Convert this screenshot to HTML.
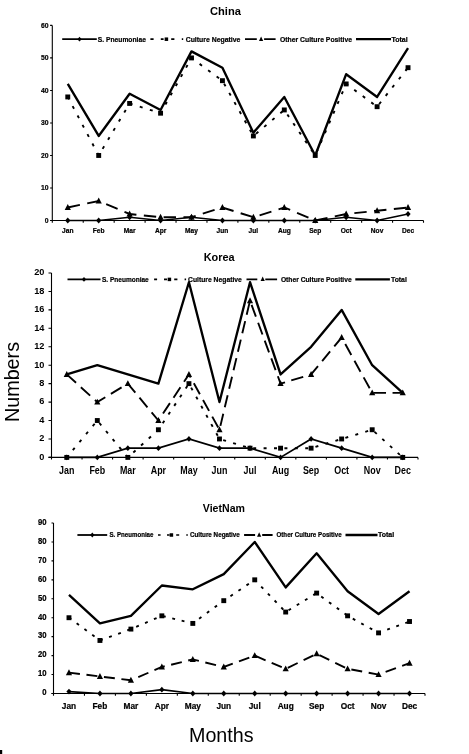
<!DOCTYPE html>
<html><head><meta charset="utf-8"><style>
html,body{margin:0;padding:0;background:#fff;}
body{width:469px;height:754px;overflow:hidden;}
svg{display:block;will-change:transform;}
</style></head><body>
<svg width="469" height="754" viewBox="0 0 469 754" font-family="Liberation Sans, sans-serif" fill="#000">
<g><text x="210" y="14.5" font-size="11" font-weight="bold" text-anchor="start" textLength="31" lengthAdjust="spacingAndGlyphs">China</text>
<path d="M52.3 25.4V222.7M50.1 220.5H423.5" stroke="#000" stroke-width="1.1" fill="none"/>
<path d="M50.1 220.5H52.3M50.1 187.98H52.3M50.1 155.47H52.3M50.1 122.95H52.3M50.1 90.43H52.3M50.1 57.92H52.3M50.1 25.4H52.3M83.23 220.5V222.7M114.17 220.5V222.7M145.1 220.5V222.7M176.03 220.5V222.7M206.97 220.5V222.7M237.9 220.5V222.7M268.83 220.5V222.7M299.77 220.5V222.7M330.7 220.5V222.7M361.63 220.5V222.7M392.57 220.5V222.7M423.5 220.5V222.7" stroke="#000" stroke-width="1.1" fill="none"/>
<text x="48.6" y="222.6" font-size="7" font-weight="bold" stroke="#000" stroke-width="0.22" text-anchor="end" textLength="3.78" lengthAdjust="spacingAndGlyphs">0</text>
<text x="48.6" y="190.08" font-size="7" font-weight="bold" stroke="#000" stroke-width="0.22" text-anchor="end" textLength="7.56" lengthAdjust="spacingAndGlyphs">10</text>
<text x="48.6" y="157.57" font-size="7" font-weight="bold" stroke="#000" stroke-width="0.22" text-anchor="end" textLength="7.56" lengthAdjust="spacingAndGlyphs">20</text>
<text x="48.6" y="125.05" font-size="7" font-weight="bold" stroke="#000" stroke-width="0.22" text-anchor="end" textLength="7.56" lengthAdjust="spacingAndGlyphs">30</text>
<text x="48.6" y="92.53" font-size="7" font-weight="bold" stroke="#000" stroke-width="0.22" text-anchor="end" textLength="7.56" lengthAdjust="spacingAndGlyphs">40</text>
<text x="48.6" y="60.02" font-size="7" font-weight="bold" stroke="#000" stroke-width="0.22" text-anchor="end" textLength="7.56" lengthAdjust="spacingAndGlyphs">50</text>
<text x="48.6" y="27.5" font-size="7" font-weight="bold" stroke="#000" stroke-width="0.22" text-anchor="end" textLength="7.56" lengthAdjust="spacingAndGlyphs">60</text>
<text x="67.77" y="232.6" font-size="6.7" font-weight="bold" stroke="#000" stroke-width="0.22" text-anchor="middle" textLength="11.37" lengthAdjust="spacingAndGlyphs">Jan</text>
<text x="98.7" y="232.6" font-size="6.7" font-weight="bold" stroke="#000" stroke-width="0.22" text-anchor="middle" textLength="11.73" lengthAdjust="spacingAndGlyphs">Feb</text>
<text x="129.63" y="232.6" font-size="6.7" font-weight="bold" stroke="#000" stroke-width="0.22" text-anchor="middle" textLength="11.74" lengthAdjust="spacingAndGlyphs">Mar</text>
<text x="160.57" y="232.6" font-size="6.7" font-weight="bold" stroke="#000" stroke-width="0.22" text-anchor="middle" textLength="11.37" lengthAdjust="spacingAndGlyphs">Apr</text>
<text x="191.5" y="232.6" font-size="6.7" font-weight="bold" stroke="#000" stroke-width="0.22" text-anchor="middle" textLength="12.84" lengthAdjust="spacingAndGlyphs">May</text>
<text x="222.43" y="232.6" font-size="6.7" font-weight="bold" stroke="#000" stroke-width="0.22" text-anchor="middle" textLength="11.73" lengthAdjust="spacingAndGlyphs">Jun</text>
<text x="253.37" y="232.6" font-size="6.7" font-weight="bold" stroke="#000" stroke-width="0.22" text-anchor="middle" textLength="9.54" lengthAdjust="spacingAndGlyphs">Jul</text>
<text x="284.3" y="232.6" font-size="6.7" font-weight="bold" stroke="#000" stroke-width="0.22" text-anchor="middle" textLength="12.83" lengthAdjust="spacingAndGlyphs">Aug</text>
<text x="315.23" y="232.6" font-size="6.7" font-weight="bold" stroke="#000" stroke-width="0.22" text-anchor="middle" textLength="12.1" lengthAdjust="spacingAndGlyphs">Sep</text>
<text x="346.17" y="232.6" font-size="6.7" font-weight="bold" stroke="#000" stroke-width="0.22" text-anchor="middle" textLength="11" lengthAdjust="spacingAndGlyphs">Oct</text>
<text x="377.1" y="232.6" font-size="6.7" font-weight="bold" stroke="#000" stroke-width="0.22" text-anchor="middle" textLength="12.47" lengthAdjust="spacingAndGlyphs">Nov</text>
<text x="408.03" y="232.6" font-size="6.7" font-weight="bold" stroke="#000" stroke-width="0.22" text-anchor="middle" textLength="12.11" lengthAdjust="spacingAndGlyphs">Dec</text>
<polyline points="67.77,83.93 98.7,135.96 129.63,93.69 160.57,109.94 191.5,51.41 222.43,67.67 253.37,132.7 284.3,96.94 315.23,155.47 346.17,74.18 377.1,96.94 408.03,48.16" fill="none" stroke="#000" stroke-width="2.35" stroke-linejoin="round"/>
<polyline points="67.77,96.94 98.7,155.47 129.63,103.44 160.57,113.2 191.5,57.92 222.43,80.68 253.37,135.96 284.3,109.94 315.23,155.47 346.17,83.93 377.1,106.69 408.03,67.67" fill="none" stroke="#000" stroke-width="1.9" stroke-dasharray="3 7.58" stroke-dashoffset="0.2"/>
<polyline points="67.77,207.49 98.7,200.99 129.63,214 160.57,217.25 191.5,217.25 222.43,207.49 253.37,217.25 284.3,207.49 315.23,220.5 346.17,214 377.1,210.75 408.03,207.49" fill="none" stroke="#000" stroke-width="1.9" stroke-dasharray="12.4 7.46" stroke-dashoffset="0"/>
<polyline points="67.77,220.5 98.7,220.5 129.63,217.25 160.57,220.5 191.5,217.25 222.43,220.5 253.37,220.5 284.3,220.5 315.23,220.5 346.17,217.25 377.1,220.5 408.03,214" fill="none" stroke="#000" stroke-width="1.7"/>
<g><rect x="65.32" y="94.49" width="4.9" height="4.9"/><rect x="96.25" y="153.02" width="4.9" height="4.9"/><rect x="127.18" y="100.99" width="4.9" height="4.9"/><rect x="158.12" y="110.75" width="4.9" height="4.9"/><rect x="189.05" y="55.47" width="4.9" height="4.9"/><rect x="219.98" y="78.23" width="4.9" height="4.9"/><rect x="250.92" y="133.51" width="4.9" height="4.9"/><rect x="281.85" y="107.49" width="4.9" height="4.9"/><rect x="312.78" y="153.02" width="4.9" height="4.9"/><rect x="343.72" y="81.48" width="4.9" height="4.9"/><rect x="374.65" y="104.24" width="4.9" height="4.9"/><rect x="405.58" y="65.22" width="4.9" height="4.9"/><path d="M67.77 204.07L70.87 209.97L64.67 209.97Z"/><path d="M98.7 197.57L101.8 203.47L95.6 203.47Z"/><path d="M129.63 210.57L132.73 216.47L126.53 216.47Z"/><path d="M160.57 213.83L163.67 219.73L157.47 219.73Z"/><path d="M191.5 213.83L194.6 219.73L188.4 219.73Z"/><path d="M222.43 204.07L225.53 209.97L219.33 209.97Z"/><path d="M253.37 213.83L256.47 219.73L250.27 219.73Z"/><path d="M284.3 204.07L287.4 209.97L281.2 209.97Z"/><path d="M315.23 217.08L318.33 222.98L312.13 222.98Z"/><path d="M346.17 210.57L349.27 216.47L343.07 216.47Z"/><path d="M377.1 207.32L380.2 213.22L374 213.22Z"/><path d="M408.03 204.07L411.13 209.97L404.93 209.97Z"/><path d="M67.77 217.6L70.38 220.5L67.77 223.4L65.16 220.5Z"/><path d="M98.7 217.6L101.31 220.5L98.7 223.4L96.09 220.5Z"/><path d="M129.63 214.35L132.24 217.25L129.63 220.15L127.02 217.25Z"/><path d="M160.57 217.6L163.18 220.5L160.57 223.4L157.96 220.5Z"/><path d="M191.5 214.35L194.11 217.25L191.5 220.15L188.89 217.25Z"/><path d="M222.43 217.6L225.04 220.5L222.43 223.4L219.82 220.5Z"/><path d="M253.37 217.6L255.98 220.5L253.37 223.4L250.76 220.5Z"/><path d="M284.3 217.6L286.91 220.5L284.3 223.4L281.69 220.5Z"/><path d="M315.23 217.6L317.84 220.5L315.23 223.4L312.62 220.5Z"/><path d="M346.17 214.35L348.78 217.25L346.17 220.15L343.56 217.25Z"/><path d="M377.1 217.6L379.71 220.5L377.1 223.4L374.49 220.5Z"/><path d="M408.03 211.1L410.64 214L408.03 216.9L405.42 214Z"/></g>
<path d="M62.2 39.2H96.8" stroke="#000" stroke-width="1.8"/>
<path d="M79.5 36.8L81.66 39.2L79.5 41.6L77.34 39.2Z"/>
<text x="97.8" y="42" font-size="7.2" font-weight="bold" stroke="#000" stroke-width="0.22" text-anchor="start" textLength="48.1" lengthAdjust="spacingAndGlyphs">S. Pneumoniae</text>
<path d="M150.4 39.2H153.6M160.8 39.2H163.6M171.2 39.2H174.4M181.8 39.2H183.2" stroke="#000" stroke-width="1.7"/>
<rect x="164.65" y="37.45" width="3.5" height="3.5"/>
<text x="185.7" y="42" font-size="7.2" font-weight="bold" stroke="#000" stroke-width="0.22" text-anchor="start" textLength="54.7" lengthAdjust="spacingAndGlyphs">Culture Negative</text>
<path d="M245 39.2H256.8M264.1 39.2H275.6" stroke="#000" stroke-width="1.8"/>
<path d="M261.1 36.4L263.2 40.9L259 40.9Z"/>
<text x="280" y="42" font-size="7.2" font-weight="bold" stroke="#000" stroke-width="0.22" text-anchor="start" textLength="72" lengthAdjust="spacingAndGlyphs">Other Culture Positive</text>
<path d="M356 39.2H391" stroke="#000" stroke-width="2.3"/>
<text x="391.4" y="42" font-size="7.2" font-weight="bold" stroke="#000" stroke-width="0.22" text-anchor="start" textLength="16.3" lengthAdjust="spacingAndGlyphs">Total</text></g>
<g><text x="203.75" y="260.5" font-size="10.9" font-weight="bold" text-anchor="start" textLength="30.9" lengthAdjust="spacingAndGlyphs">Korea</text>
<path d="M51.5 273V459.6M48.5 457.4H418" stroke="#000" stroke-width="1.1" fill="none"/>
<path d="M48.5 457.4H51.5M48.5 438.96H51.5M48.5 420.52H51.5M48.5 402.08H51.5M48.5 383.64H51.5M48.5 365.2H51.5M48.5 346.76H51.5M48.5 328.32H51.5M48.5 309.88H51.5M48.5 291.44H51.5M48.5 273H51.5M82.04 457.4V459.6M112.58 457.4V459.6M143.12 457.4V459.6M173.67 457.4V459.6M204.21 457.4V459.6M234.75 457.4V459.6M265.29 457.4V459.6M295.83 457.4V459.6M326.38 457.4V459.6M356.92 457.4V459.6M387.46 457.4V459.6M418 457.4V459.6" stroke="#000" stroke-width="1.1" fill="none"/>
<text x="44.4" y="459.7" font-size="9.6" font-weight="bold" text-anchor="end" textLength="5.12" lengthAdjust="spacingAndGlyphs">0</text>
<text x="44.4" y="441.26" font-size="9.6" font-weight="bold" text-anchor="end" textLength="5.12" lengthAdjust="spacingAndGlyphs">2</text>
<text x="44.4" y="422.82" font-size="9.6" font-weight="bold" text-anchor="end" textLength="5.12" lengthAdjust="spacingAndGlyphs">4</text>
<text x="44.4" y="404.38" font-size="9.6" font-weight="bold" text-anchor="end" textLength="5.12" lengthAdjust="spacingAndGlyphs">6</text>
<text x="44.4" y="385.94" font-size="9.6" font-weight="bold" text-anchor="end" textLength="5.12" lengthAdjust="spacingAndGlyphs">8</text>
<text x="44.4" y="367.5" font-size="9.6" font-weight="bold" text-anchor="end" textLength="10.23" lengthAdjust="spacingAndGlyphs">10</text>
<text x="44.4" y="349.06" font-size="9.6" font-weight="bold" text-anchor="end" textLength="10.23" lengthAdjust="spacingAndGlyphs">12</text>
<text x="44.4" y="330.62" font-size="9.6" font-weight="bold" text-anchor="end" textLength="10.23" lengthAdjust="spacingAndGlyphs">14</text>
<text x="44.4" y="312.18" font-size="9.6" font-weight="bold" text-anchor="end" textLength="10.23" lengthAdjust="spacingAndGlyphs">16</text>
<text x="44.4" y="293.74" font-size="9.6" font-weight="bold" text-anchor="end" textLength="10.23" lengthAdjust="spacingAndGlyphs">18</text>
<text x="44.4" y="275.3" font-size="9.6" font-weight="bold" text-anchor="end" textLength="10.23" lengthAdjust="spacingAndGlyphs">20</text>
<text x="66.77" y="473.7" font-size="10.3" font-weight="bold" text-anchor="middle" textLength="15.34" lengthAdjust="spacingAndGlyphs">Jan</text>
<text x="97.31" y="473.7" font-size="10.3" font-weight="bold" text-anchor="middle" textLength="15.82" lengthAdjust="spacingAndGlyphs">Feb</text>
<text x="127.85" y="473.7" font-size="10.3" font-weight="bold" text-anchor="middle" textLength="15.83" lengthAdjust="spacingAndGlyphs">Mar</text>
<text x="158.4" y="473.7" font-size="10.3" font-weight="bold" text-anchor="middle" textLength="15.33" lengthAdjust="spacingAndGlyphs">Apr</text>
<text x="188.94" y="473.7" font-size="10.3" font-weight="bold" text-anchor="middle" textLength="17.31" lengthAdjust="spacingAndGlyphs">May</text>
<text x="219.48" y="473.7" font-size="10.3" font-weight="bold" text-anchor="middle" textLength="15.82" lengthAdjust="spacingAndGlyphs">Jun</text>
<text x="250.02" y="473.7" font-size="10.3" font-weight="bold" text-anchor="middle" textLength="12.86" lengthAdjust="spacingAndGlyphs">Jul</text>
<text x="280.56" y="473.7" font-size="10.3" font-weight="bold" text-anchor="middle" textLength="17.3" lengthAdjust="spacingAndGlyphs">Aug</text>
<text x="311.1" y="473.7" font-size="10.3" font-weight="bold" text-anchor="middle" textLength="16.32" lengthAdjust="spacingAndGlyphs">Sep</text>
<text x="341.65" y="473.7" font-size="10.3" font-weight="bold" text-anchor="middle" textLength="14.84" lengthAdjust="spacingAndGlyphs">Oct</text>
<text x="372.19" y="473.7" font-size="10.3" font-weight="bold" text-anchor="middle" textLength="16.81" lengthAdjust="spacingAndGlyphs">Nov</text>
<text x="402.73" y="473.7" font-size="10.3" font-weight="bold" text-anchor="middle" textLength="16.33" lengthAdjust="spacingAndGlyphs">Dec</text>
<polyline points="66.77,374.42 97.31,365.2 127.85,374.42 158.4,383.64 188.94,282.22 219.48,402.08 250.02,282.22 280.56,374.42 311.1,346.76 341.65,309.88 372.19,365.2 402.73,392.86" fill="none" stroke="#000" stroke-width="2.35" stroke-linejoin="round"/>
<polyline points="66.77,457.4 97.31,420.52 127.85,457.4 158.4,429.74 188.94,383.64 219.48,438.96 250.02,448.18 280.56,448.18 311.1,448.18 341.65,438.96 372.19,429.74 402.73,457.4" fill="none" stroke="#000" stroke-width="1.9" stroke-dasharray="3 7.41" stroke-dashoffset="0.95"/>
<polyline points="66.77,374.42 97.31,402.08 127.85,383.64 158.4,420.52 188.94,374.42 219.48,429.74 250.02,300.66 280.56,383.64 311.1,374.42 341.65,337.54 372.19,392.86 402.73,392.86" fill="none" stroke="#000" stroke-width="1.9" stroke-dasharray="12.5 6.52" stroke-dashoffset="0"/>
<polyline points="66.77,457.4 97.31,457.4 127.85,448.18 158.4,448.18 188.94,438.96 219.48,448.18 250.02,448.18 280.56,457.4 311.1,438.96 341.65,448.18 372.19,457.4 402.73,457.4" fill="none" stroke="#000" stroke-width="1.7"/>
<g><rect x="64.32" y="454.95" width="4.9" height="4.9"/><rect x="94.86" y="418.07" width="4.9" height="4.9"/><rect x="125.4" y="454.95" width="4.9" height="4.9"/><rect x="155.95" y="427.29" width="4.9" height="4.9"/><rect x="186.49" y="381.19" width="4.9" height="4.9"/><rect x="217.03" y="436.51" width="4.9" height="4.9"/><rect x="247.57" y="445.73" width="4.9" height="4.9"/><rect x="278.11" y="445.73" width="4.9" height="4.9"/><rect x="308.65" y="445.73" width="4.9" height="4.9"/><rect x="339.2" y="436.51" width="4.9" height="4.9"/><rect x="369.74" y="427.29" width="4.9" height="4.9"/><rect x="400.28" y="454.95" width="4.9" height="4.9"/><path d="M66.77 371L69.87 376.9L63.67 376.9Z"/><path d="M97.31 398.66L100.41 404.56L94.21 404.56Z"/><path d="M127.85 380.22L130.95 386.12L124.75 386.12Z"/><path d="M158.4 417.1L161.5 423L155.3 423Z"/><path d="M188.94 371L192.04 376.9L185.84 376.9Z"/><path d="M219.48 426.32L222.58 432.22L216.38 432.22Z"/><path d="M250.02 297.24L253.12 303.14L246.92 303.14Z"/><path d="M280.56 380.22L283.66 386.12L277.46 386.12Z"/><path d="M311.1 371L314.2 376.9L308 376.9Z"/><path d="M341.65 334.12L344.75 340.02L338.55 340.02Z"/><path d="M372.19 389.44L375.29 395.34L369.09 395.34Z"/><path d="M402.73 389.44L405.83 395.34L399.63 395.34Z"/><path d="M66.77 454.5L69.38 457.4L66.77 460.3L64.16 457.4Z"/><path d="M97.31 454.5L99.92 457.4L97.31 460.3L94.7 457.4Z"/><path d="M127.85 445.28L130.46 448.18L127.85 451.08L125.24 448.18Z"/><path d="M158.4 445.28L161.01 448.18L158.4 451.08L155.79 448.18Z"/><path d="M188.94 436.06L191.55 438.96L188.94 441.86L186.33 438.96Z"/><path d="M219.48 445.28L222.09 448.18L219.48 451.08L216.87 448.18Z"/><path d="M250.02 445.28L252.63 448.18L250.02 451.08L247.41 448.18Z"/><path d="M280.56 454.5L283.17 457.4L280.56 460.3L277.95 457.4Z"/><path d="M311.1 436.06L313.71 438.96L311.1 441.86L308.49 438.96Z"/><path d="M341.65 445.28L344.26 448.18L341.65 451.08L339.04 448.18Z"/><path d="M372.19 454.5L374.8 457.4L372.19 460.3L369.58 457.4Z"/><path d="M402.73 454.5L405.34 457.4L402.73 460.3L400.12 457.4Z"/></g>
<path d="M67.5 279.4H100.5" stroke="#000" stroke-width="1.8"/>
<path d="M84 277L86.16 279.4L84 281.8L81.84 279.4Z"/>
<text x="102" y="281.8" font-size="7" font-weight="bold" stroke="#000" stroke-width="0.22" text-anchor="start" textLength="46.7" lengthAdjust="spacingAndGlyphs">S. Pneumoniae</text>
<path d="M154.1 279.4H157.1M164 279.4H167M174.2 279.4H177.4M184.6 279.4H186.1" stroke="#000" stroke-width="1.7"/>
<rect x="167.65" y="277.65" width="3.5" height="3.5"/>
<text x="188.1" y="281.8" font-size="7" font-weight="bold" stroke="#000" stroke-width="0.22" text-anchor="start" textLength="53.7" lengthAdjust="spacingAndGlyphs">Culture Negative</text>
<path d="M246.5 279.4H257.3M265.3 279.4H277.1" stroke="#000" stroke-width="1.8"/>
<path d="M262.7 276.6L264.8 281.1L260.6 281.1Z"/>
<text x="280.9" y="281.8" font-size="7" font-weight="bold" stroke="#000" stroke-width="0.22" text-anchor="start" textLength="70.8" lengthAdjust="spacingAndGlyphs">Other Culture Positive</text>
<path d="M355.3 279.4H389.9" stroke="#000" stroke-width="2.3"/>
<text x="391" y="281.8" font-size="7" font-weight="bold" stroke="#000" stroke-width="0.22" text-anchor="start" textLength="15.8" lengthAdjust="spacingAndGlyphs">Total</text></g>
<g><text x="202.8" y="511.6" font-size="10.5" font-weight="bold" text-anchor="start" textLength="42.2" lengthAdjust="spacingAndGlyphs">VietNam</text>
<path d="M53.5 523V695.7M51.5 693.5H425" stroke="#000" stroke-width="1.1" fill="none"/>
<path d="M51.5 693.5H53.5M51.5 674.56H53.5M51.5 655.61H53.5M51.5 636.67H53.5M51.5 617.72H53.5M51.5 598.78H53.5M51.5 579.83H53.5M51.5 560.89H53.5M51.5 541.94H53.5M51.5 523H53.5M84.46 693.5V695.7M115.42 693.5V695.7M146.38 693.5V695.7M177.33 693.5V695.7M208.29 693.5V695.7M239.25 693.5V695.7M270.21 693.5V695.7M301.17 693.5V695.7M332.12 693.5V695.7M363.08 693.5V695.7M394.04 693.5V695.7M425 693.5V695.7" stroke="#000" stroke-width="1.1" fill="none"/>
<text x="46.5" y="695.3" font-size="8.3" font-weight="bold" stroke="#000" stroke-width="0.22" text-anchor="end" textLength="4.28" lengthAdjust="spacingAndGlyphs">0</text>
<text x="46.5" y="676.36" font-size="8.3" font-weight="bold" stroke="#000" stroke-width="0.22" text-anchor="end" textLength="8.56" lengthAdjust="spacingAndGlyphs">10</text>
<text x="46.5" y="657.41" font-size="8.3" font-weight="bold" stroke="#000" stroke-width="0.22" text-anchor="end" textLength="8.56" lengthAdjust="spacingAndGlyphs">20</text>
<text x="46.5" y="638.47" font-size="8.3" font-weight="bold" stroke="#000" stroke-width="0.22" text-anchor="end" textLength="8.56" lengthAdjust="spacingAndGlyphs">30</text>
<text x="46.5" y="619.52" font-size="8.3" font-weight="bold" stroke="#000" stroke-width="0.22" text-anchor="end" textLength="8.56" lengthAdjust="spacingAndGlyphs">40</text>
<text x="46.5" y="600.58" font-size="8.3" font-weight="bold" stroke="#000" stroke-width="0.22" text-anchor="end" textLength="8.56" lengthAdjust="spacingAndGlyphs">50</text>
<text x="46.5" y="581.63" font-size="8.3" font-weight="bold" stroke="#000" stroke-width="0.22" text-anchor="end" textLength="8.56" lengthAdjust="spacingAndGlyphs">60</text>
<text x="46.5" y="562.69" font-size="8.3" font-weight="bold" stroke="#000" stroke-width="0.22" text-anchor="end" textLength="8.56" lengthAdjust="spacingAndGlyphs">70</text>
<text x="46.5" y="543.74" font-size="8.3" font-weight="bold" stroke="#000" stroke-width="0.22" text-anchor="end" textLength="8.56" lengthAdjust="spacingAndGlyphs">80</text>
<text x="46.5" y="524.8" font-size="8.3" font-weight="bold" stroke="#000" stroke-width="0.22" text-anchor="end" textLength="8.56" lengthAdjust="spacingAndGlyphs">90</text>
<text x="68.98" y="708.9" font-size="8.6" font-weight="bold" stroke="#000" stroke-width="0.22" text-anchor="middle" textLength="14.3" lengthAdjust="spacingAndGlyphs">Jan</text>
<text x="99.94" y="708.9" font-size="8.6" font-weight="bold" stroke="#000" stroke-width="0.22" text-anchor="middle" textLength="14.76" lengthAdjust="spacingAndGlyphs">Feb</text>
<text x="130.9" y="708.9" font-size="8.6" font-weight="bold" stroke="#000" stroke-width="0.22" text-anchor="middle" textLength="14.76" lengthAdjust="spacingAndGlyphs">Mar</text>
<text x="161.85" y="708.9" font-size="8.6" font-weight="bold" stroke="#000" stroke-width="0.22" text-anchor="middle" textLength="14.29" lengthAdjust="spacingAndGlyphs">Apr</text>
<text x="192.81" y="708.9" font-size="8.6" font-weight="bold" stroke="#000" stroke-width="0.22" text-anchor="middle" textLength="16.15" lengthAdjust="spacingAndGlyphs">May</text>
<text x="223.77" y="708.9" font-size="8.6" font-weight="bold" stroke="#000" stroke-width="0.22" text-anchor="middle" textLength="14.76" lengthAdjust="spacingAndGlyphs">Jun</text>
<text x="254.73" y="708.9" font-size="8.6" font-weight="bold" stroke="#000" stroke-width="0.22" text-anchor="middle" textLength="11.99" lengthAdjust="spacingAndGlyphs">Jul</text>
<text x="285.69" y="708.9" font-size="8.6" font-weight="bold" stroke="#000" stroke-width="0.22" text-anchor="middle" textLength="16.13" lengthAdjust="spacingAndGlyphs">Aug</text>
<text x="316.65" y="708.9" font-size="8.6" font-weight="bold" stroke="#000" stroke-width="0.22" text-anchor="middle" textLength="15.22" lengthAdjust="spacingAndGlyphs">Sep</text>
<text x="347.6" y="708.9" font-size="8.6" font-weight="bold" stroke="#000" stroke-width="0.22" text-anchor="middle" textLength="13.84" lengthAdjust="spacingAndGlyphs">Oct</text>
<text x="378.56" y="708.9" font-size="8.6" font-weight="bold" stroke="#000" stroke-width="0.22" text-anchor="middle" textLength="15.68" lengthAdjust="spacingAndGlyphs">Nov</text>
<text x="409.52" y="708.9" font-size="8.6" font-weight="bold" stroke="#000" stroke-width="0.22" text-anchor="middle" textLength="15.23" lengthAdjust="spacingAndGlyphs">Dec</text>
<polyline points="68.98,594.99 99.94,623.41 130.9,615.83 161.85,585.52 192.81,589.31 223.77,574.15 254.73,541.94 285.69,587.41 316.65,553.31 347.6,591.2 378.56,613.93 409.52,591.2" fill="none" stroke="#000" stroke-width="2.35" stroke-linejoin="round"/>
<polyline points="68.98,617.72 99.94,640.46 130.9,629.09 161.85,615.83 192.81,623.41 223.77,600.67 254.73,579.83 285.69,612.04 316.65,593.09 347.6,615.83 378.56,632.88 409.52,621.51" fill="none" stroke="#000" stroke-width="1.9" stroke-dasharray="2.9 6.76" stroke-dashoffset="0.15"/>
<polyline points="68.98,672.66 99.94,676.45 130.9,680.24 161.85,666.98 192.81,659.4 223.77,666.98 254.73,655.61 285.69,668.87 316.65,653.72 347.6,668.87 378.56,674.56 409.52,663.19" fill="none" stroke="#000" stroke-width="1.9" stroke-dasharray="11 6.6" stroke-dashoffset="0"/>
<polyline points="68.98,691.61 99.94,693.5 130.9,693.5 161.85,689.71 192.81,693.5 223.77,693.5 254.73,693.5 285.69,693.5 316.65,693.5 347.6,693.5 378.56,693.5 409.52,693.5" fill="none" stroke="#000" stroke-width="1.7"/>
<g><rect x="66.53" y="615.27" width="4.9" height="4.9"/><rect x="97.49" y="638.01" width="4.9" height="4.9"/><rect x="128.45" y="626.64" width="4.9" height="4.9"/><rect x="159.4" y="613.38" width="4.9" height="4.9"/><rect x="190.36" y="620.96" width="4.9" height="4.9"/><rect x="221.32" y="598.22" width="4.9" height="4.9"/><rect x="252.28" y="577.38" width="4.9" height="4.9"/><rect x="283.24" y="609.59" width="4.9" height="4.9"/><rect x="314.2" y="590.64" width="4.9" height="4.9"/><rect x="345.15" y="613.38" width="4.9" height="4.9"/><rect x="376.11" y="630.43" width="4.9" height="4.9"/><rect x="407.07" y="619.06" width="4.9" height="4.9"/><path d="M68.98 669.24L72.08 675.14L65.88 675.14Z"/><path d="M99.94 673.03L103.04 678.93L96.84 678.93Z"/><path d="M130.9 676.82L134 682.72L127.8 682.72Z"/><path d="M161.85 663.56L164.95 669.46L158.75 669.46Z"/><path d="M192.81 655.98L195.91 661.88L189.71 661.88Z"/><path d="M223.77 663.56L226.87 669.46L220.67 669.46Z"/><path d="M254.73 652.19L257.83 658.09L251.63 658.09Z"/><path d="M285.69 665.45L288.79 671.35L282.59 671.35Z"/><path d="M316.65 650.29L319.75 656.19L313.55 656.19Z"/><path d="M347.6 665.45L350.7 671.35L344.5 671.35Z"/><path d="M378.56 671.13L381.66 677.03L375.46 677.03Z"/><path d="M409.52 659.77L412.62 665.67L406.42 665.67Z"/><path d="M68.98 688.71L71.59 691.61L68.98 694.51L66.37 691.61Z"/><path d="M99.94 690.6L102.55 693.5L99.94 696.4L97.33 693.5Z"/><path d="M130.9 690.6L133.51 693.5L130.9 696.4L128.29 693.5Z"/><path d="M161.85 686.81L164.46 689.71L161.85 692.61L159.24 689.71Z"/><path d="M192.81 690.6L195.42 693.5L192.81 696.4L190.2 693.5Z"/><path d="M223.77 690.6L226.38 693.5L223.77 696.4L221.16 693.5Z"/><path d="M254.73 690.6L257.34 693.5L254.73 696.4L252.12 693.5Z"/><path d="M285.69 690.6L288.3 693.5L285.69 696.4L283.08 693.5Z"/><path d="M316.65 690.6L319.26 693.5L316.65 696.4L314.04 693.5Z"/><path d="M347.6 690.6L350.21 693.5L347.6 696.4L344.99 693.5Z"/><path d="M378.56 690.6L381.17 693.5L378.56 696.4L375.95 693.5Z"/><path d="M409.52 690.6L412.13 693.5L409.52 696.4L406.91 693.5Z"/></g>
<path d="M77.4 535H107.2" stroke="#000" stroke-width="1.8"/>
<path d="M92.3 532.6L94.46 535L92.3 537.4L90.14 535Z"/>
<text x="109.5" y="537.3" font-size="6.4" font-weight="bold" stroke="#000" stroke-width="0.22" text-anchor="start" textLength="43.9" lengthAdjust="spacingAndGlyphs">S. Pneumoniae</text>
<path d="M158 535H160.6M167 535H169.6M176.2 535H179.2M186.3 535H187.8" stroke="#000" stroke-width="1.7"/>
<rect x="169.65" y="533.25" width="3.5" height="3.5"/>
<text x="189.9" y="537.3" font-size="6.4" font-weight="bold" stroke="#000" stroke-width="0.22" text-anchor="start" textLength="49.9" lengthAdjust="spacingAndGlyphs">Culture Negative</text>
<path d="M244.1 535H255.1M262.2 535H272.6" stroke="#000" stroke-width="1.8"/>
<path d="M259.15 532.2L261.25 536.7L257.05 536.7Z"/>
<text x="276.5" y="537.3" font-size="6.4" font-weight="bold" stroke="#000" stroke-width="0.22" text-anchor="start" textLength="65.2" lengthAdjust="spacingAndGlyphs">Other Culture Positive</text>
<path d="M345.5 535H377.5" stroke="#000" stroke-width="2.3"/>
<text x="378" y="537.3" font-size="6.4" font-weight="bold" stroke="#000" stroke-width="0.22" text-anchor="start" textLength="16.2" lengthAdjust="spacingAndGlyphs">Total</text></g>
<text x="189" y="742" font-size="19.3" text-anchor="start" textLength="64.6" lengthAdjust="spacingAndGlyphs">Months</text>
<text x="0" y="0" font-size="19.3" text-anchor="start" textLength="80" lengthAdjust="spacingAndGlyphs" transform="translate(18.5 422) rotate(-90)">Numbers</text>
<rect x="0" y="750" width="2.2" height="4"/>
</svg>
</body></html>
